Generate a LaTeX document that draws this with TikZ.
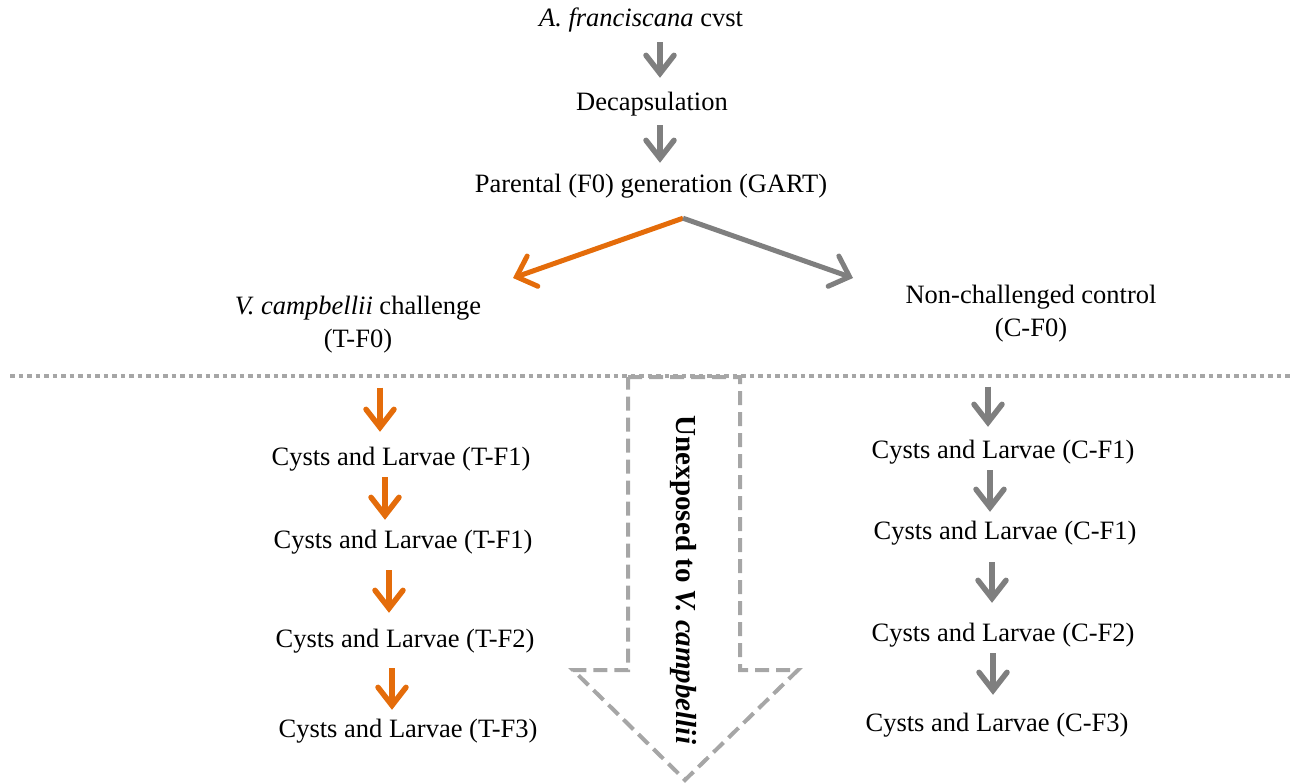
\documentclass[tikz,border=0pt]{standalone}
\usepackage{fontspec}
\setmainfont{Liberation Serif}
\usetikzlibrary{arrows.meta}
\definecolor{org}{HTML}{E46C0A}
\definecolor{gry}{HTML}{7F7F7F}
\definecolor{lgry}{HTML}{A6A6A6}
\tikzset{
  lbl/.style={inner sep=0pt, text height=18pt, text depth=6pt, font=\fontsize{26.5}{33}\selectfont},
  lbl2/.style={inner sep=0pt, align=center, font=\fontsize{26.5}{33}\selectfont},
  darr/.style={line width=5.5pt, -{Straight Barb[length=18pt,width=28pt,line cap=round,line join=miter]}},
  barr/.style={line width=5pt, -{Straight Barb[length=17pt,width=32pt,line cap=round,line join=miter]}},
  oarr/.style={darr, draw=org},
  garr/.style={darr, draw=gry},
}
\begin{document}
\begin{tikzpicture}[x=1pt,y=-1pt]
\useasboundingbox (0,0) rectangle (1298,784);
% top chain
\node[lbl] (cyst) at (641,21) {\textit{A. franciscana} cvst};
\node[lbl] (decap) at (652,104) {Decapsulation};
\node[lbl] (par) at (651,186) {Parental (F0) generation (GART)};
\draw[garr, shorten <=9pt, shorten >=14pt] ([xshift=19pt]cyst.south) -- ([xshift=8pt]decap.north);
\draw[garr, shorten <=9pt, shorten >=11pt] ([xshift=8pt]decap.south) -- ([xshift=9pt]par.north);
% branches
\node[lbl2] (tf0) at (358,325) {\textit{V. campbellii} challenge\\(T-F0)};
\node[lbl2] (cf0) at (1031,314) {Non-challenged control\\(C-F0)};
\coordinate (br) at ([xshift=32pt,yshift=-20pt]par.south);
\coordinate (tipL) at (513,278);
\coordinate (tipR) at (853,278);
\draw[barr, draw=org] (br) -- (tipL);
\draw[barr, draw=gry] (br) -- (tipR);
% separator
\draw[lgry, line width=4pt, dash pattern=on 4.5pt off 4pt] (10,376) -- (1292,376);
% big dashed arrow
\draw[lgry, line width=4pt, dash pattern=on 14pt off 7pt, line join=miter]
  (628,377) -- (740,377) -- (740,670) -- (798,670) -- (685,780) -- (573,670) -- (628,670) -- cycle;
\node[inner sep=0pt, rotate=-90, font=\fontsize{29}{33}\selectfont\bfseries] (unexp) at (683,580) {Unexposed to \textit{V. campbellii}};
% left column
\node[lbl] (t1) at (401,459) {Cysts and Larvae (T-F1)};
\node[lbl] (t2) at (403,542) {Cysts and Larvae (T-F1)};
\node[lbl] (t3) at (405,641) {Cysts and Larvae (T-F2)};
\node[lbl] (t4) at (408,731) {Cysts and Larvae (T-F3)};
\draw[oarr, shorten <=34pt, shorten >=15pt] ([xshift=22pt]tf0.south) -- ([xshift=-21pt]t1.north);
\draw[oarr, shorten <=6pt, shorten >=10pt] ([xshift=-16pt]t1.south) -- ([xshift=-18pt]t2.north);
\draw[oarr, shorten <=16pt, shorten >=16pt] ([xshift=-14pt]t2.south) -- ([xshift=-16pt]t3.north);
\draw[oarr, shorten <=15pt, shorten >=9pt] ([xshift=-13pt]t3.south) -- ([xshift=-16pt]t4.north);
% right column
\node[lbl] (c1) at (1003,452) {Cysts and Larvae (C-F1)};
\node[lbl] (c2) at (1005,533) {Cysts and Larvae (C-F1)};
\node[lbl] (c3) at (1003,635) {Cysts and Larvae (C-F2)};
\node[lbl] (c4) at (997,725) {Cysts and Larvae (C-F3)};
\draw[garr, shorten <=44pt, shorten >=13pt] ([xshift=-43pt]cf0.south) -- ([xshift=-15pt]c1.north);
\draw[garr, shorten <=6pt, shorten >=9pt] ([xshift=-13pt]c1.south) -- ([xshift=-15pt]c2.north);
\draw[garr, shorten <=17pt, shorten >=20pt] ([xshift=-13pt]c2.south) -- ([xshift=-11pt]c3.north);
\draw[garr, shorten <=6pt, shorten >=18pt] ([xshift=-10pt]c3.south) -- ([xshift=-4pt]c4.north);
\end{tikzpicture}
\end{document}
